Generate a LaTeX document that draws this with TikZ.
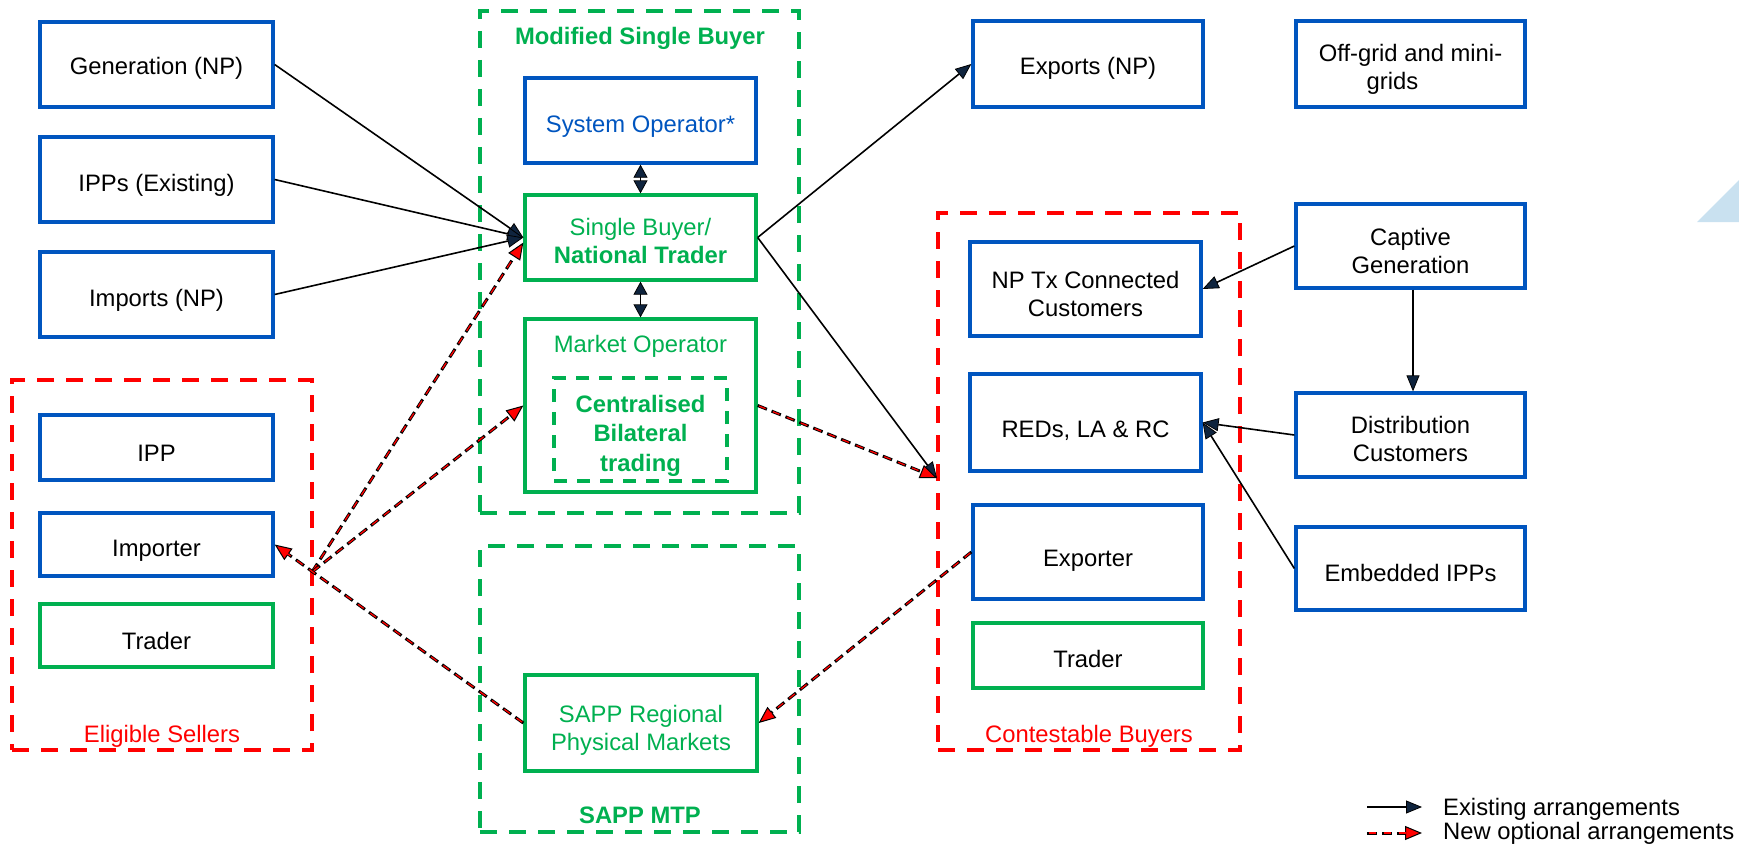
\documentclass[tikz,border=0pt]{standalone}
\usepackage{fontspec}
\setmainfont{Liberation Sans}
\usetikzlibrary{arrows.meta,calc}
\definecolor{bxblue}{HTML}{0055BF}
\definecolor{bxgreen}{HTML}{00B050}
\definecolor{navy}{HTML}{0F243E}
\definecolor{tri}{HTML}{C9E1F0}
\begin{document}
\begin{tikzpicture}[x=1pt,y=-1pt,
  every node/.style={font=\fontsize{23.8}{28}\selectfont, inner sep=0pt, align=center, text height=29pt, text depth=5pt},
  twoline/.style={text height=57pt},
  bluebox/.style={draw=bxblue, line width=3.3pt, text=black},
  greenbox/.style={draw=bxgreen, line width=3.3pt, text=black},
  grpgreen/.style={draw=bxgreen, line width=4pt, dash pattern=on 17pt off 12pt},
  grpred/.style={draw=red, line width=4pt, dash pattern=on 17pt off 12pt},
  bfnode/.style={font=\fontsize{23.8}{28}\selectfont\bfseries},
  exist/.style={draw=black, line width=1.6pt, -{Triangle[length=16pt,width=13pt,fill=navy,line width=0.8pt]}},
  both/.style={draw=black, line width=1.6pt, {Triangle[length=13pt,width=14pt,fill=navy,line width=0.8pt]}-{Triangle[length=13pt,width=14pt,fill=navy,line width=0.8pt]}},
  newarr/.style={draw=black, line width=3pt, dash pattern=on 10pt off 5pt,
    -{Triangle[length=17pt,width=14pt,fill=red,line width=1pt]},
    postaction={draw=red, line width=1.3pt, -, dash pattern=on 7pt off 8pt, dash phase=13.5pt, shorten >=13pt}}
]
\useasboundingbox (0,0) rectangle (1739,848);
\fill[tri] (1697,222) -- (1739,222) -- (1739,180) -- cycle;

% groups
\node[grpred, minimum width=300pt, minimum height=370pt, text height=0pt, text depth=0pt] (es) at (162,565) {};
\node[grpgreen, minimum width=319pt, minimum height=502pt, text height=0pt, text depth=0pt] (msb) at (639.5,262) {};
\node[grpgreen, minimum width=319pt, minimum height=286pt, text height=0pt, text depth=0pt] (mtp) at (639.5,689) {};
\node[grpred, minimum width=302pt, minimum height=537pt, text height=0pt, text depth=0pt] (cb) at (1089,481.5) {};

\node[text=red] (eslbl) at (162,730.5) {Eligible Sellers};
\node[text=red] (cblbl) at (1089,730.5) {Contestable Buyers};
\node[bfnode, text=bxgreen] (msblbl) at (640,33) {Modified Single Buyer};
\node[bfnode, text=bxgreen] (mtplbl) at (640,811.5) {SAPP MTP};

% left column
\node[bluebox, minimum width=233pt, minimum height=85pt, text height=25pt] (gen) at (156.5,64.5) {Generation (NP)};
\node[bluebox, minimum width=233pt, minimum height=85pt] (ipps) at (156.5,179.5) {IPPs (Existing)};
\node[bluebox, minimum width=233pt, minimum height=85pt] (imp) at (156.5,294.5) {Imports (NP)};
\node[bluebox, minimum width=233pt, minimum height=65pt, text height=32pt] (ipp) at (156.5,447.5) {IPP};
\node[bluebox, minimum width=233pt, minimum height=63pt] (importer) at (156.5,544.5) {Importer};
\node[greenbox, minimum width=233pt, minimum height=63pt, text height=32pt] (trader1) at (156.5,635.5) {Trader};

% middle column
\node[bluebox, text=bxblue, minimum width=231pt, minimum height=85pt] (so) at (640.5,120.5) {System Operator*};
\node[greenbox, twoline, text=bxgreen, minimum width=231pt, minimum height=85pt] (sb) at (640.5,237.5) {Single Buyer/\\\textbf{National Trader}};
\node[greenbox, minimum width=231pt, minimum height=173pt, text height=0pt, text depth=0pt] (mo) at (640.5,405.5) {};
\node[text=bxgreen] (molbl) at (640.5,340.5) {Market Operator};
\node[draw=bxgreen, line width=4pt, dash pattern=on 13pt off 10pt, minimum width=173pt, minimum height=103pt, text height=0pt, text depth=0pt] (cbt) at (640.5,429.5) {};
\node[text=bxgreen, font=\fontsize{23.8}{29.5}\selectfont\bfseries, text height=88pt] (cbttxt) at (640.5,429.5) {Centralised\\Bilateral\\trading};
\node[greenbox, twoline, text=bxgreen, minimum width=232pt, minimum height=96pt, text height=59pt] (sapp) at (641,723) {SAPP Regional\\Physical Markets};

% right columns
\node[bluebox, minimum width=230pt, minimum height=86pt, text height=27pt] (exports) at (1088,64) {Exports (NP)};
\node[bluebox, twoline, minimum width=229pt, minimum height=86pt] (offgrid) at (1410.5,64) {Off-grid and mini-\\grids\hspace*{36pt}};
\node[bluebox, twoline, minimum width=231pt, minimum height=94pt, text height=59pt] (nptx) at (1085.5,289) {NP Tx Connected\\Customers};
\node[bluebox, minimum width=231pt, minimum height=97pt, text height=35pt] (reds) at (1085.5,422.5) {REDs, LA \& RC};
\node[bluebox, minimum width=230pt, minimum height=94pt, text height=33pt] (exporter) at (1088,552) {Exporter};
\node[greenbox, minimum width=230pt, minimum height=65pt] (trader2) at (1088,655.5) {Trader};
\node[bluebox, twoline, minimum width=229pt, minimum height=84pt, text height=59pt] (captive) at (1410.5,246) {Captive\\Generation};
\node[bluebox, twoline, minimum width=229pt, minimum height=84pt] (dist) at (1410.5,435) {Distribution\\Customers};
\node[bluebox, minimum width=229pt, minimum height=83pt, text height=31pt] (emb) at (1410.5,568.5) {Embedded IPPs};

% coordinates
\coordinate (esx) at (312,572);
\coordinate (cbin) at (937,478);

% existing arrows
\draw[exist] (gen.east) -- (sb.west);
\draw[exist] (ipps.east) -- (sb.west);
\draw[exist] (imp.east) -- (sb.west);
\draw[both] (so.south) -- (sb.north);
\draw[both] (sb.south) -- (mo.north);
\draw[exist] (sb.east) -- (exports.west);
\draw[exist] (sb.east) -- (cbin);
\draw[exist] (captive.west) -- (nptx.east);
\draw[exist] (dist.west) -- (reds.east);
\draw[exist] (emb.west) -- (reds.east);
\draw[exist] ($(captive.south)+(2.5,0)$) -- ($(dist.north)+(2.5,0)$);

% new optional arrows
\draw[newarr] (esx) -- ($(sb.west)+(0,5)$);
\draw[newarr] (esx) -- (mo.west);
\draw[newarr] (sapp.west) -- (importer.east);
\draw[newarr] (mo.east) -- (cbin);
\draw[newarr] (exporter.west) -- (sapp.east);

% legend
\coordinate (l1a) at (1367,807);
\coordinate (l1b) at (1422,807);
\coordinate (l2a) at (1367,833);
\coordinate (l2b) at (1422,833);
\draw[exist] (l1a) -- (l1b);
\draw[newarr] (l2a) -- (l2b);
\node[anchor=west] (leg1) at (1443,803) {Existing arrangements};
\node[anchor=west] (leg2) at (1443,827.5) {New optional arrangements};
\end{tikzpicture}
\end{document}
